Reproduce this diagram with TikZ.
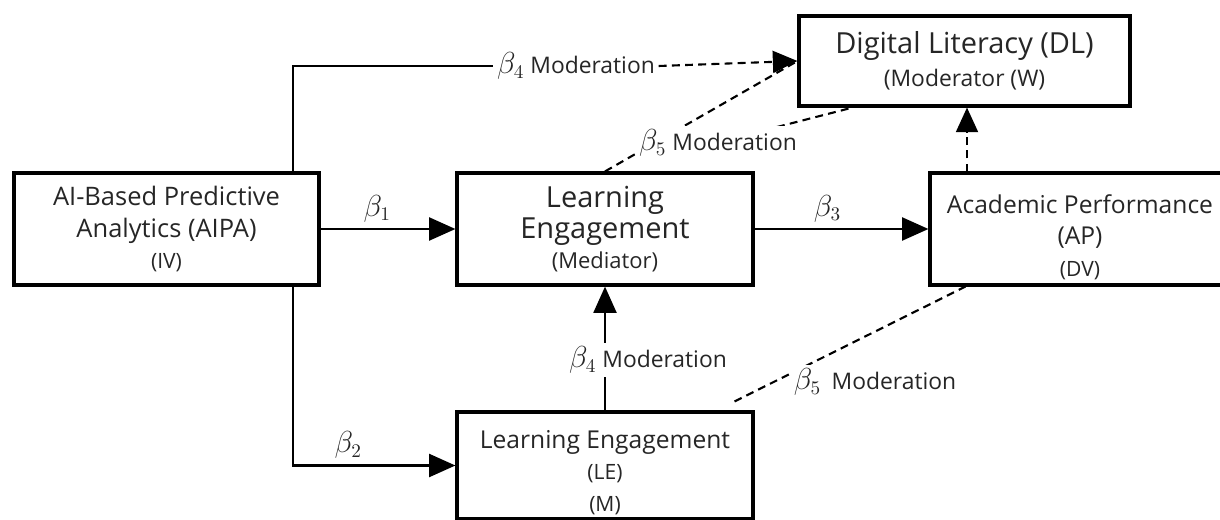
\documentclass[tikz,border=0pt]{standalone}
\usepackage{fontspec}
\setmainfont{Open Sans}
\usetikzlibrary{arrows.meta,calc,backgrounds}
\newcommand{\bcoef}[1]{{\fontsize{16}{16}\selectfont$\beta_{#1}$}}

\begin{document}
\begin{tikzpicture}[x=0.02cm, y=-0.02cm,
    box/.style={draw, line width=1.8pt, fill=white, align=center, inner sep=0pt,
      text=black!85, font=\fontsize{14}{18}\selectfont},
    arr/.style={line width=1.6pt, -{Triangle[length=15pt,width=13pt]}},
    modline/.style={line width=1.2pt, dash pattern=on 4.5pt off 3pt},
    dasharr/.style={modline, -{Triangle[length=14pt,width=12.5pt]}},
    tag/.style={fill=white, inner sep=2pt, text=black!85, font=\fontsize{13}{16}\selectfont}]

  \useasboundingbox (0,0) rectangle (1220,520);

  \node[box, minimum width=6.1cm, minimum height=2.24cm] (aipa) at (166.5,229)
    {{\fontsize{14.5}{18}\selectfont AI-Based Predictive}\\{\fontsize{14.5}{18}\selectfont Analytics (AIPA)}\\{\fontsize{12}{15}\selectfont (IV)}};
  \node[box, minimum width=5.92cm, minimum height=2.24cm] (med) at (605,229)
    {{\fontsize{16.5}{18}\selectfont Learning}\\{\fontsize{16.5}{17}\selectfont Engagement}\\[-1pt]{\fontsize{12.5}{15}\selectfont (Mediator)}};
  \node[box, minimum width=6.0cm, minimum height=2.24cm] (ap) at (1080,229)
    {\rule{0pt}{20pt}Academic Performance\\(AP)\\{\fontsize{12}{15}\selectfont (DV)}};
  \node[box, minimum width=6.62cm, minimum height=1.8cm] (dl) at (964.5,61)
    {{\fontsize{16.5}{20}\selectfont Digital Literacy (DL)}\\[1pt]{\fontsize{13}{15}\selectfont (Moderator (W)}};
  \node[box, minimum width=5.92cm, minimum height=2.14cm] (le) at (605,465.5)
    {\rule{0pt}{18pt}Learning Engagement\\{\fontsize{12}{16}\selectfont (LE)}\\{\fontsize{12}{16}\selectfont (M)}};

  \node[tag] (m4top) at (576,66) {\bcoef{4} Moderation};
  \node[tag] (m5top) at (718,143) {\bcoef{5} Moderation};
  \node[tag] (m4low) at (648,360) {\bcoef{4} Moderation};
  \node[tag] (m5low) at (875,382) {\bcoef{5}\hspace{6pt}Moderation};

  \coordinate (tap) at (293,0);
  \coordinate (apx) at (967,0);
  \coordinate (m5tail) at (777,127);

  \begin{scope}[on background layer]
    \foreach \a/\b/\n in {aipa/med/1, med/ap/3}
      \draw[arr] (\a) -- (\b) node[pos=0.42, above=1pt, tag, fill=none] {\bcoef{\n}};
    \draw[arr] (aipa.south -| tap) |- (le.west) node[pos=0.67, above=1pt, tag, fill=none] {\bcoef{2}};
    \draw[line width=1.6pt] (aipa.north -| tap) |- (m4top.west);
    \draw[dasharr] (m4top.east) -- (dl.west);
    \draw[modline] (med.north) -- (dl.west);
    \draw[modline] (m5tail) -- ($(dl.south west)!0.165!(dl.south east)$);
    \draw[dasharr] (ap.north -| apx) -- (dl.south -| apx);
    \draw[modline] ($(le.north east)+(-20,-9)$) -- ($(ap.south west)+(37,0)$);
    \draw[arr] (le) -- (med);
  \end{scope}
\end{tikzpicture}
\end{document}
